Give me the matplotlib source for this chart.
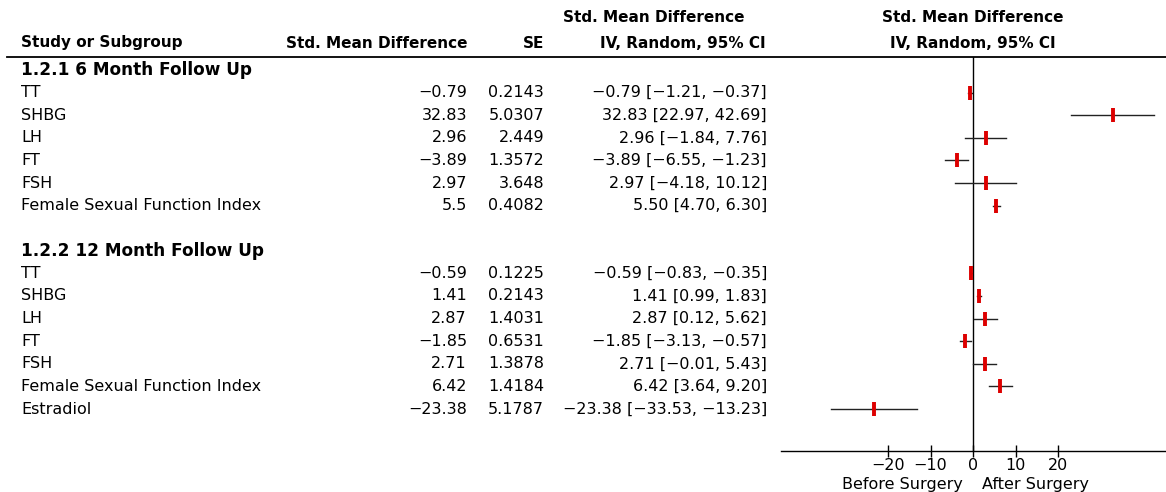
"""
forest plot: std. mean difference before / after surgery
"""
import numpy as np
import matplotlib
matplotlib.use('Agg')
import matplotlib.pyplot as plt
import matplotlib.transforms as mtransforms
from matplotlib.lines import Line2D

plt.rcParams['font.family'] = ['DejaVu Sans']

# 1.2.1 6 month follow up
names1 = ['TT', 'SHBG', 'LH', 'FT', 'FSH', 'Female Sexual Function Index']
smd1 = [-0.79, 32.83, 2.96, -3.89, 2.97, 5.5]
se1 = ['0.2143', '5.0307', '2.449', '1.3572', '3.648', '0.4082']
lo1 = [-1.21, 22.97, -1.84, -6.55, -4.18, 4.70]
hi1 = [-0.37, 42.69, 7.76, -1.23, 10.12, 6.30]

# 1.2.2 12 month follow up
names2 = ['TT', 'SHBG', 'LH', 'FT', 'FSH', 'Female Sexual Function Index', 'Estradiol']
smd2 = [-0.59, 1.41, 2.87, -1.85, 2.71, 6.42, -23.38]
se2 = ['0.1225', '0.2143', '1.4031', '0.6531', '1.3878', '1.4184', '5.1787']
lo2 = [-0.83, 0.99, 0.12, -3.13, -0.01, 3.64, -33.53]
hi2 = [-0.35, 1.83, 5.62, -0.57, 5.43, 9.20, -13.23]

groups = ['1.2.1 6 Month Follow Up', '1.2.2 12 Month Follow Up']
xticks = [-20, -10, 0, 10, 20]

W, H = 1166, 492
FS = 11.5


def fx(px):
    return px / W


def fy(py):
    return 1 - py / H


def m(s):
    # proper minus sign
    return s.replace('-', '\u2212')


fig = plt.figure(figsize=(W / 100, H / 100), dpi=100)

# forest axes, rows counted downward
ax = fig.add_axes([fx(781), fy(451), fx(1166) - fx(781), fy(57) - fy(451)])
row0, dy = 70, 22.6
ax.set_ylim((451 - row0) / dy, (57 - row0) / dy)
ax.set_xlim(-45.2, 45.4)
for s in ['top', 'left', 'right']:
    ax.spines[s].set_visible(False)
ax.spines['bottom'].set_linewidth(1)
ax.set_yticks([])
ax.set_xticks(xticks)
ax.set_xticklabels([m(str(t)) for t in xticks], fontsize=FS)
ax.tick_params(axis='x', direction='inout', length=8, width=1, pad=1)
ax.axvline(0, color='black', lw=1)
ax.patch.set_visible(False)

trans = mtransforms.blended_transform_factory(fig.transFigure, ax.transData)

# header
hdr = dict(fontsize=11, fontweight='bold', va='center')
fig.text(fx(21), fy(43), 'Study or Subgroup', ha='left', **hdr)
fig.text(fx(467), fy(43), 'Std. Mean Difference', ha='right', **hdr)
fig.text(fx(544), fy(43), 'SE', ha='right', **hdr)
fig.text(fx(654), fy(18), 'Std. Mean Difference', ha='center', **hdr)
fig.text(fx(766), fy(43), 'IV, Random, 95% CI', ha='right', **hdr)
fig.text(fx(973), fy(18), 'Std. Mean Difference', ha='center', **hdr)
fig.text(fx(973), fy(43), 'IV, Random, 95% CI', ha='center', **hdr)
fig.add_artist(Line2D([fx(7), 1], [fy(57), fy(57)], color='black', lw=1.3,
                      transform=fig.transFigure))

# rows
data = [(names1, smd1, se1, lo1, hi1), (names2, smd2, se2, lo2, hi2)]
row = 0
for g, (names, smd, se, lo, hi) in zip(groups, data):
    fig.text(fx(21), row, g, ha='left', va='center', fontsize=12.2,
             fontweight='bold', transform=trans)
    row += 1
    for i in range(len(names)):
        fig.text(fx(21), row, names[i], ha='left', va='center', fontsize=FS,
                 transform=trans)
        fig.text(fx(467), row, m(str(smd[i])), ha='right', va='center',
                 fontsize=FS, transform=trans)
        fig.text(fx(544), row, se[i], ha='right', va='center', fontsize=FS,
                 transform=trans)
        ci = '%.2f [%.2f, %.2f]' % (smd[i], lo[i], hi[i])
        fig.text(fx(767), row, m(ci), ha='right', va='center', fontsize=FS,
                 transform=trans)
        ax.plot([lo[i], hi[i]], [row, row], color='#222222', lw=1)
        ax.plot(smd[i], row, marker='|', ms=10, mew=2.8, color='#dd0000')
        row += 1
    row += 1

fig.text(fx(963), fy(485), 'Before Surgery', ha='right', va='center', fontsize=FS)
fig.text(fx(982), fy(485), 'After Surgery', ha='left', va='center', fontsize=FS)

plt.savefig('out.png', dpi=100)
